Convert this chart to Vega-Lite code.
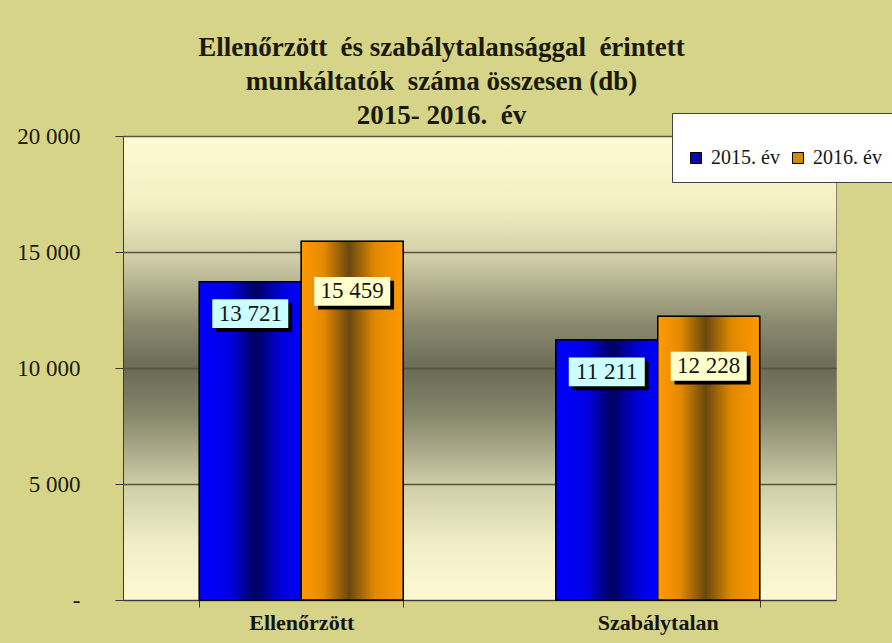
{
  "$schema": "https://vega.github.io/schema/vega-lite/v6.json",
  "autosize": {"type": "none"},
  "width": 713,
  "height": 464,
  "padding": {"left": 123, "top": 136, "right": 56, "bottom": 43},
  "background": "#d6d488",
  "view": {
    "stroke": "#85856d",
    "strokeWidth": 1,
    "fill": {
      "gradient": "linear", "x1": 0, "y1": 0, "x2": 0, "y2": 1,
      "stops": [
        {"offset": 0, "color": "#fdfad3"},
        {"offset": 0.15, "color": "#f3efc3"},
        {"offset": 0.27, "color": "#cdc9a4"},
        {"offset": 0.4, "color": "#8c8b71"},
        {"offset": 0.5, "color": "#6b6b56"},
        {"offset": 0.6, "color": "#86866c"},
        {"offset": 0.75, "color": "#cdcda6"},
        {"offset": 0.88, "color": "#f1eec7"},
        {"offset": 1, "color": "#fdfad3"}
      ]
    }
  },
  "config": {
    "locale": {"number": {"decimal": ",", "thousands": " ", "grouping": [3], "currency": ["", ""]}},
    "font": "Times New Roman, Liberation Serif, DejaVu Serif, serif"
  },
  "title": {
    "text": ["Ellenőrzött\u00a0 és szabálytalansággal\u00a0 érintett", "munkáltatók\u00a0 száma összesen (db)", "2015- 2016.\u00a0 év"],
    "font": "Times New Roman, Liberation Serif, DejaVu Serif, serif",
    "fontSize": 27,
    "fontWeight": "bold",
    "color": "#1a1a08",
    "anchor": "middle",
    "frame": "group",
    "dx": -38,
    "lineHeight": 34,
    "offset": -17
  },
  "data": {
    "values": [
      {"cat": "Ellenőrzött", "year": "2015. év", "value": 13721},
      {"cat": "Ellenőrzött", "year": "2016. év", "value": 15459},
      {"cat": "Szabálytalan", "year": "2015. év", "value": 11211},
      {"cat": "Szabálytalan", "year": "2016. év", "value": 12228}
    ]
  },
  "encoding": {
    "x": {
      "field": "cat", "type": "nominal", "sort": null,
      "scale": {"paddingInner": 0.428, "paddingOuter": 0.214},
      "axis": {
        "title": null, "labelAngle": 0, "tickBand": "extent", "tickSize": 7,
        "labelFont": "Times New Roman, Liberation Serif, DejaVu Serif, serif", "labelFontSize": 22, "labelFontWeight": "bold",
        "labelColor": "#151510", "labelPadding": 5, "labelBaseline": "top",
        "domainColor": "#3a3a3a", "tickColor": "#3a3a3a", "grid": false
      }
    },
    "xOffset": {"field": "year", "type": "nominal", "sort": null, "scale": {"paddingInner": 0, "paddingOuter": 0}},
    "y": {
      "field": "value", "type": "quantitative",
      "scale": {"domain": [0, 20000], "nice": false},
      "axis": {
        "title": null, "values": [0, 5000, 10000, 15000, 20000], "format": ",.0f",
        "labelExpr": "datum.value === 0 ? '-\u00a0\u00a0' : datum.label",
        "labelFont": "Times New Roman, Liberation Serif, DejaVu Serif, serif", "labelFontSize": 23, "labelColor": "#1a1a10",
        "labelPadding": 35, "tickSize": 8, "tickColor": "#3a3a3a", "domainColor": "#3a3a3a",
        "grid": true, "gridColor": "#55553f", "gridWidth": 1.5
      }
    }
  },
  "layer": [
    {
      "mark": {"type": "bar", "stroke": "#000000", "strokeWidth": 1},
      "encoding": {
        "color": {
          "field": "year", "type": "nominal", "sort": null,
          "scale": {"range": ["#0a0aa8", "#d08a10"]},
          "legend": {
            "title": "\u00a0", "titleFontSize": 9, "titlePadding": 12,
            "orient": "none", "legendX": 549, "legendY": -23,
            "direction": "horizontal", "fillColor": "#ffffff", "strokeColor": "#404040",
            "padding": 14, "symbolType": "square", "symbolSize": 121,
            "symbolStrokeColor": "#000000", "symbolStrokeWidth": 1,
            "labelFont": "Times New Roman, Liberation Serif, DejaVu Serif, serif", "labelFontSize": 20, "labelColor": "#151515",
            "labelOffset": 5, "columnPadding": 8
          }
        }
      }
    },
    {
      "transform": [{"filter": "datum.year === '2015. év'"}],
      "mark": {
        "type": "bar", "stroke": "#000000", "strokeWidth": 1.5,
        "color": {
          "gradient": "linear", "x1": 0, "y1": 0, "x2": 1, "y2": 0,
          "stops": [
            {"offset": 0, "color": "#0000ff"},
            {"offset": 0.3, "color": "#0000e6"},
            {"offset": 0.55, "color": "#000060"},
            {"offset": 0.8, "color": "#0000d8"},
            {"offset": 1, "color": "#0000ff"}
          ]
        }
      }
    },
    {
      "transform": [{"filter": "datum.year === '2016. év'"}],
      "mark": {
        "type": "bar", "stroke": "#000000", "strokeWidth": 1.5,
        "color": {
          "gradient": "linear", "x1": 0, "y1": 0, "x2": 1, "y2": 0,
          "stops": [
            {"offset": 0, "color": "#ff9a00"},
            {"offset": 0.22, "color": "#e48a00"},
            {"offset": 0.47, "color": "#6a4810"},
            {"offset": 0.72, "color": "#e08800"},
            {"offset": 1, "color": "#ff9900"}
          ]
        }
      }
    },
    {
      "transform": [{"filter": "datum.year === '2015. év'"}],
      "mark": {"type": "point", "filled": true, "shape": "M-0.9,-0.28H1.1V0.48H-0.9Z", "size": 5776, "color": "#000000", "opacity": 1, "yOffset": 32}
    },
    {
      "transform": [{"filter": "datum.year === '2015. év'"}],
      "mark": {"type": "point", "filled": true, "shape": "M-1,-0.38H1V0.38H-1Z", "size": 5776, "color": "#ccffff", "opacity": 1, "yOffset": 32}
    },
    {
      "transform": [{"filter": "datum.year === '2015. év'"}],
      "mark": {"type": "text", "dy": 32, "baseline": "middle", "font": "Times New Roman, Liberation Serif, DejaVu Serif, serif", "fontSize": 23, "color": "#151515"},
      "encoding": {"text": {"field": "value", "type": "quantitative", "format": ","}}
    },
    {
      "transform": [{"filter": "datum.year === '2016. év'"}],
      "mark": {"type": "point", "filled": true, "shape": "M-0.9,-0.28H1.1V0.48H-0.9Z", "size": 5776, "color": "#000000", "opacity": 1, "yOffset": 50}
    },
    {
      "transform": [{"filter": "datum.year === '2016. év'"}],
      "mark": {"type": "point", "filled": true, "shape": "M-1,-0.38H1V0.38H-1Z", "size": 5776, "color": "#ffffcc", "opacity": 1, "yOffset": 50}
    },
    {
      "transform": [{"filter": "datum.year === '2016. év'"}],
      "mark": {"type": "text", "dy": 50, "baseline": "middle", "font": "Times New Roman, Liberation Serif, DejaVu Serif, serif", "fontSize": 23, "color": "#151515"},
      "encoding": {"text": {"field": "value", "type": "quantitative", "format": ","}}
    }
  ]
}
